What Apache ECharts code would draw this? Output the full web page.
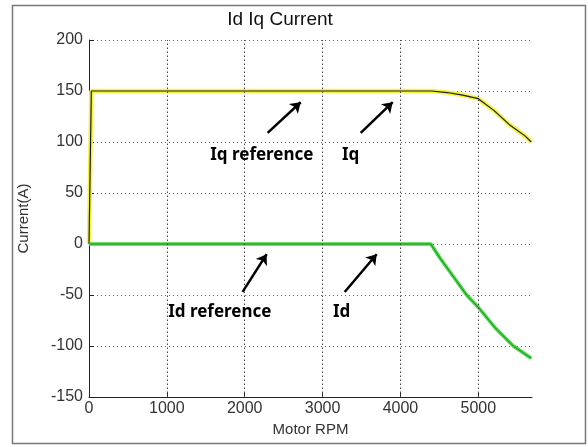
<!DOCTYPE html>
<html>
<head>
<meta charset="utf-8">
<script src="https://cdn.jsdelivr.net/npm/echarts@6/dist/echarts.min.js"></script>
<style>
  html, body { margin: 0; padding: 0; background: #fff; }
  #main { width: 588px; height: 447px; }
</style>
</head>
<body>
<div id="main"></div>
<script>
// 读图得到的数据 (rpm, A)
const iqData = [[0, 0], [20, 0], [30, 150], [4400, 150], [4600, 148.5], [4800, 146], [5000, 142.5],
  [5200, 131], [5400, 117], [5600, 106], [5680, 100]];
const iqRefData = [[0, 0], [20, 0], [30, 150], [4400, 150], [4600, 148.5], [4800, 146], [5000, 142.5],
  [5200, 131], [5400, 117], [5600, 106], [5680, 100]];
const idData = [[0, 0], [4390, 0], [4510, -14], [4700, -34], [4850, -50], [5000, -62],
  [5215, -82], [5450, -100], [5680, -112]];
const idRefData = [[0, 0], [4390, 0], [4510, -14], [4700, -34], [4850, -50], [5000, -62],
  [5215, -82], [5450, -100], [5680, -112]];
// x 方向网格线位置
const xGrid = [1000, 2000, 3000, 4000, 5000];

// 注释文字和箭头（数据坐标）
const labels = [
  { name: 'Iq reference', coord: [2220, 87] },
  { name: 'Iq', coord: [3360, 87] },
  { name: 'Id reference', coord: [1680, -67] },
  { name: 'Id', coord: [3245, -67] }
];
const arrows = [
  [[2294, 109], [2719, 139]],
  [[3490, 109], [3901, 139]],
  [[1973, -47], [2282, -10]],
  [[3284, -47], [3695, -10]]
];

var myChart = echarts.init(document.getElementById('main'));

const tickLabel = { color: '#333', fontSize: 16, fontFamily: 'Liberation Sans' };
const axisName = { color: '#333', fontSize: 15, fontFamily: 'Liberation Sans' };

var option = {
  animation: false,
  title: {
    text: 'Id Iq Current',
    left: 275, top: 5,
    textAlign: 'center',
    textStyle: { fontSize: 19, fontWeight: 'normal', color: '#111', fontFamily: 'Liberation Sans' }
  },
  graphic: [{
    type: 'rect',
    shape: { x: 12.5, y: 5.5, width: 573, height: 438 },
    style: { fill: 'none', stroke: '#777', lineWidth: 1.5 },
    silent: true
  }],
  grid: { left: 89, top: 40, right: 56, bottom: 50 },
  xAxis: {
    type: 'value',
    min: 0, max: 5690, interval: 1000,
    name: 'Motor RPM', nameLocation: 'middle', nameGap: 24,
    nameTextStyle: axisName,
    axisLine: { show: true, onZero: false, lineStyle: { color: '#222', width: 1 } },
    axisTick: { show: true, inside: true, length: 5, lineStyle: { color: '#222' } },
    axisLabel: Object.assign({ margin: 4, showMaxLabel: false, formatter: v => String(v) }, tickLabel),
    splitLine: { show: false }
  },
  yAxis: {
    type: 'value',
    min: -150, max: 200, interval: 50,
    name: 'Current(A)', nameLocation: 'middle', nameGap: 58,
    nameTextStyle: axisName,
    axisLine: { show: true, onZero: false, lineStyle: { color: '#222', width: 1 } },
    axisTick: { show: true, inside: true, length: 5, lineStyle: { color: '#222' } },
    axisLabel: Object.assign({ margin: 6 }, tickLabel),
    splitLine: { show: true, lineStyle: { color: '#666', type: [1, 3], width: 1 } }
  },
  series: [
    {
      // 竖直网格线
      name: 'grid', type: 'line', data: [], silent: true, z: 1,
      markLine: {
        silent: true,
        symbol: ['none', 'none'],
        label: { show: false },
        lineStyle: { color: '#444', width: 1, type: [1.5, 2.5] },
        data: xGrid.map(v => ({ xAxis: v }))
      }
    },
    {
      name: 'Iq', type: 'line', data: iqData, showSymbol: false, silent: true, z: 2,
      lineStyle: { color: '#f4f43a', width: 4.5 }
    },
    {
      name: 'Iq reference', type: 'line', data: iqRefData, showSymbol: false, silent: true, z: 2,
      lineStyle: { color: '#1a1a30', width: 1.2 }
    },
    {
      name: 'Id', type: 'line', data: idData, showSymbol: false, silent: true, z: 2,
      lineStyle: { color: '#45d845', width: 3.5 }
    },
    {
      name: 'Id reference', type: 'line', data: idRefData, showSymbol: false, silent: true, z: 2,
      lineStyle: { color: '#2a8a2a', width: 1 }
    },
    {
      name: 'annot', type: 'line', data: [], silent: true, z: 3,
      markLine: {
        silent: true,
        symbol: ['none', 'arrow'],
        symbolSize: 10,
        label: { show: false },
        lineStyle: { color: '#000', width: 2.5, type: 'solid' },
        data: arrows.map(a => [{ coord: a[0] }, { coord: a[1] }])
      },
      markPoint: {
        silent: true,
        symbol: 'circle',
        symbolSize: 0,
        label: {
          show: true, position: 'inside', formatter: '{b}',
          color: '#000', fontSize: 17, fontWeight: 'bold', fontFamily: 'Noto Sans'
        },
        data: labels
      }
    }
  ]
};

myChart.setOption(option);
</script>
</body>
</html>
